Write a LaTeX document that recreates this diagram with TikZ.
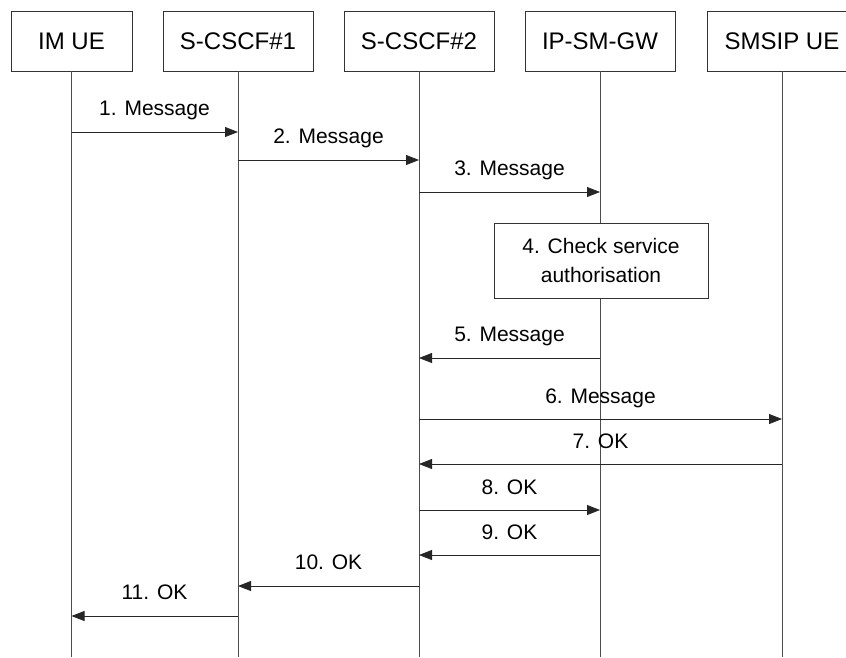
\documentclass[tikz,border=0pt]{standalone}
\usepackage{fontspec}
\setmainfont{Liberation Sans}
\usetikzlibrary{arrows.meta}
\begin{document}
\begin{tikzpicture}[x=1pt,y=-1pt]
\tikzstyle{ent}=[draw=black!80, line width=.8pt, minimum height=60pt, minimum width=150pt, inner sep=0, font=\fontsize{24}{28}\selectfont]
\tikzstyle{life}=[draw=black!70, line width=.8pt]
\tikzstyle{msg}=[draw=black!85, line width=.8pt, -{Triangle[length=13pt,width=10pt]}]
\tikzstyle{lbl}=[anchor=base, inner sep=0, font=\fontsize{21}{25}\selectfont]
\useasboundingbox (0,0) rectangle (846,657);
% entities
\node[ent, minimum width=121pt] (ue) at(71.5,41){IM UE};
\node[ent] (cs1) at(238,41){S-CSCF\#1};
\node[ent] (cs2) at(419,41){S-CSCF\#2};
\node[ent] (gw) at(600,41){IP-SM-GW};
\node[ent] (sip) at(782,41){SMSIP UE};
% lifelines
\coordinate (ueb) at(71.5,657);
\coordinate (cs1b) at(238,657);
\coordinate (cs2b) at(419,657);
\coordinate (gwb) at(600,657);
\coordinate (sipb) at(782,657);
\draw[life](ue.south)--(ueb);
\draw[life](cs1.south)--(cs1b);
\draw[life](cs2.south)--(cs2b);
\draw[life](gw.south)--(gwb);
\draw[life](sip.south)--(sipb);
% check box
\node[ent, fill=white, minimum width=214pt, minimum height=75pt, align=center, font=\fontsize{21}{29}\selectfont] (chk) at(601,260.5){4. Check service\\authorisation};
% messages
\draw[msg](ue|-0,132)--(cs1|-0,132);
\node[lbl] (m1) at(154.5,115){1. Message};
\draw[msg](cs1|-0,160)--(cs2|-0,160);
\node[lbl] (m2) at(328.5,143){2. Message};
\draw[msg](cs2|-0,192)--(gw|-0,192);
\node[lbl] (m3) at(509.5,175){3. Message};
\draw[msg](gw|-0,358)--(cs2|-0,358);
\node[lbl] (m5) at(509.5,341){5. Message};
\draw[msg](cs2|-0,419)--(sip|-0,419);
\node[lbl] (m6) at(600.5,403){6. Message};
\draw[msg](sip|-0,464)--(cs2|-0,464);
\node[lbl] (m7) at(600.5,448){7. OK};
\draw[msg](cs2|-0,510)--(gw|-0,510);
\node[lbl] (m8) at(509.5,494){8. OK};
\draw[msg](gw|-0,555)--(cs2|-0,555);
\node[lbl] (m9) at(509.5,539){9. OK};
\draw[msg](cs2|-0,586)--(cs1|-0,586);
\node[lbl] (m10) at(328.5,569){10. OK};
\draw[msg](cs1|-0,616)--(ue|-0,616);
\node[lbl] (m11) at(154.5,599){11. OK};
\end{tikzpicture}
\end{document}
